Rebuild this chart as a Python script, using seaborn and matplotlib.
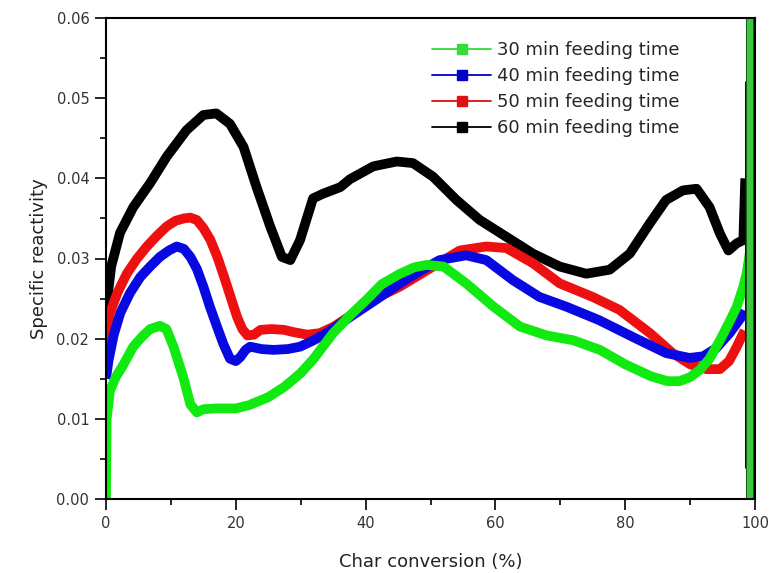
import numpy as np
import pandas as pd
import matplotlib
matplotlib.use("Agg")
import matplotlib.pyplot as plt
from matplotlib.lines import Line2D
from matplotlib.ticker import MultipleLocator, FormatStrFormatter
import seaborn as sns

sns.set_style("ticks")
plt.rcParams['font.family'] = ['DejaVu Sans']

# --- data ------------------------------------------------------------------
labels = ['30 min feeding time', '40 min feeding time',
          '50 min feeding time', '60 min feeding time']

x30 = [0, 0.1, 0.6, 1.5, 2.5, 4.2, 5.5, 6.8, 8.3, 9.3, 10.4, 11.9, 13.0, 14.0, 15.0,
       17, 20, 22, 25, 27.5, 30, 32, 35, 37.6, 40.2, 42.5, 45.3, 47.5, 49.4, 52.0,
       55.5, 59.7, 63.8, 67.9, 72.0, 76.1, 80, 84, 86.5, 88.4, 90, 91.5, 93, 94.6,
       96, 97.2, 98.2, 98.7, 99.2]
y30 = [0, 0.0100, 0.0135, 0.0152, 0.0165, 0.019, 0.0202, 0.0212, 0.0216, 0.0212, 0.019,
       0.0152, 0.0118, 0.0108, 0.0112, 0.0113, 0.0113, 0.0117, 0.0127, 0.014, 0.0157,
       0.0175, 0.0207, 0.0229, 0.0249, 0.0268, 0.0281, 0.0289, 0.0292, 0.0290, 0.0269,
       0.024, 0.0215, 0.0204, 0.0198, 0.0186, 0.0168, 0.0153, 0.0147, 0.0147, 0.0152,
       0.0161, 0.0175, 0.0198, 0.022, 0.024, 0.0265, 0.0281, 0.0307]

x40 = [0, 0.4, 1.2, 2.2, 3.7, 5.3, 6.8, 8.3, 9.7, 10.9, 12.0, 13.0, 14.0, 15.0, 16.0,
       17.1, 18.1, 19.1, 20.0, 20.7, 21.5, 22.2, 24, 25.8, 28, 29.9, 32, 34.0, 37.6,
       41.5, 45.3, 48.5, 51.4, 55.5, 58.6, 62.7, 66.8, 70.9, 76.0, 81.2, 86.3, 89.9,
       92, 94, 96.1, 97.9, 98.4]
y40 = [0.015, 0.0173, 0.0205, 0.0232, 0.0257, 0.0277, 0.029, 0.0302, 0.031, 0.0315,
       0.0312, 0.0302, 0.0287, 0.0265, 0.024, 0.0215, 0.0193, 0.0175, 0.0172, 0.0177,
       0.0186, 0.019, 0.0187, 0.0186, 0.0187, 0.019, 0.0198, 0.0207, 0.0227, 0.0248,
       0.0269, 0.0285, 0.0298, 0.0304, 0.0298, 0.0273, 0.0252, 0.024, 0.0223, 0.0202,
       0.0182, 0.0176, 0.0178, 0.0188, 0.0207, 0.0227, 0.0235]

x50 = [0, 0.6, 1.8, 3.2, 4.7, 6.3, 7.8, 9.35, 10.7, 12.0, 13.0, 14.0, 15.0, 16.1, 17.2,
       18.2, 19.2, 20.2, 21.0, 21.8, 22.8, 23.8, 25.5, 27.4, 29, 31.0, 33, 35.1, 37.7,
       41.5, 45.3, 50.4, 54.5, 58.6, 61.7, 65.8, 69.9, 75.0, 79.1, 83.8, 87.3, 90,
       92.5, 94.6, 96, 97.2, 97.9, 98.4]
y50 = [0.019, 0.0232, 0.0258, 0.0281, 0.0299, 0.0315, 0.0328, 0.034, 0.0347, 0.035,
       0.0351, 0.0348, 0.0338, 0.0323, 0.0301, 0.0277, 0.0252, 0.0227, 0.0212, 0.0204,
       0.0205, 0.0211, 0.0212, 0.0211, 0.0208, 0.0205, 0.0207, 0.0215, 0.0229, 0.025,
       0.0265, 0.029, 0.031, 0.0315, 0.0313, 0.0294, 0.0269, 0.0252, 0.0236, 0.0207,
       0.0182, 0.0168, 0.0162, 0.0162, 0.0172, 0.019, 0.0202, 0.021]

x60 = [0, 0.2, 0.8, 2.16, 4.2, 6.8, 9.35, 12.4, 15.0, 17.0, 19.1, 21.2, 23.2, 25.3,
       27.1, 28.4, 29.9, 31.9, 33.5, 36.1, 37.6, 41.2, 44.8, 47.3, 50.4, 54.0, 57.6,
       61.7, 65.8, 69.9, 74.0, 77.6, 80.7, 83.8, 86.3, 88.9, 91.0, 93.0, 94.6, 95.9,
       97.2, 98.2, 98.5]
y60 = [0.021, 0.025, 0.029, 0.0332, 0.0364, 0.0394, 0.0427, 0.046, 0.0479, 0.0481,
       0.0468, 0.0439, 0.0389, 0.034, 0.0302, 0.0298, 0.0323, 0.0375, 0.0381, 0.0389,
       0.0399, 0.0415, 0.0421, 0.0419, 0.0402, 0.0373, 0.0348, 0.0327, 0.0306, 0.029,
       0.0281, 0.0286, 0.0306, 0.0344, 0.0373, 0.0385, 0.0387, 0.0364, 0.0331, 0.031,
       0.0319, 0.0323, 0.040]

# end-of-run vertical traces at the right edge
x60_tail = [98.6, 98.6]
y60_tail = [0.052, 0.004]
x30_tail = [99.25, 99.25]
y30_tail = [0.0, 0.0605]

colors = ['#10ea10', '#0808e0', '#ee1010', '#000000']
legend_colors = ['#33dd33', '#0000c8', '#dd1111', '#000000']

# ---------------------------------------------------------------------------
fig = plt.figure(figsize=(7.7, 5.73), dpi=100)
ax = fig.add_axes([106 / 770, 1 - 499 / 573, 649 / 770, 481 / 573])

series = [(x60, y60, colors[3]), (x50, y50, colors[2]),
          (x40, y40, colors[1]), (x30, y30, colors[0])]
for xs, ys, c in series:
    sns.lineplot(x=xs, y=ys, sort=False, estimator=None, color=c, linewidth=7,
                 ax=ax, solid_joinstyle='round', solid_capstyle='butt')

sns.lineplot(x=x60_tail, y=y60_tail, sort=False, estimator=None, color='#111111',
             linewidth=2.2, ax=ax)
sns.lineplot(x=x30_tail, y=y30_tail, sort=False, estimator=None, color='#1e5a1e',
             linewidth=6.5, ax=ax, solid_capstyle='butt')
sns.lineplot(x=x30_tail, y=y30_tail, sort=False, estimator=None, color='#3cc83c',
             linewidth=4.3, ax=ax, solid_capstyle='butt')

ax.set_xlim(0, 100)
ax.set_ylim(0, 0.06)
ax.xaxis.set_major_locator(MultipleLocator(20))
ax.xaxis.set_minor_locator(MultipleLocator(10))
ax.yaxis.set_major_locator(MultipleLocator(0.01))
ax.yaxis.set_minor_locator(MultipleLocator(0.005))
ax.yaxis.set_major_formatter(FormatStrFormatter('%.2f'))

ax.tick_params(which='major', direction='out', length=8, width=1.4,
               labelsize=10.5, labelcolor='#333333', pad=4)
ax.tick_params(which='minor', direction='out', length=4.5, width=1.4)
ax.tick_params(top=False, right=False)
for s in ax.spines.values():
    s.set_linewidth(1.5)
    s.set_color('black')

ax.set_xlabel('Char conversion (%)', fontsize=13, color='#222222', labelpad=16)
ax.set_ylabel('Specific reactivity', fontsize=13, color='#222222', labelpad=6)

handles = [Line2D([], [], color=c, linewidth=1.3, marker='s', markersize=7)
           for c in legend_colors]
ax.legend(handles, labels, loc='upper left', bbox_to_anchor=(0.502, 0.952),
          frameon=False, borderpad=0, borderaxespad=0, fontsize=13,
          handlelength=3.3, handletextpad=0.3, labelspacing=0.45)

fig.savefig('out.png', dpi=100)
